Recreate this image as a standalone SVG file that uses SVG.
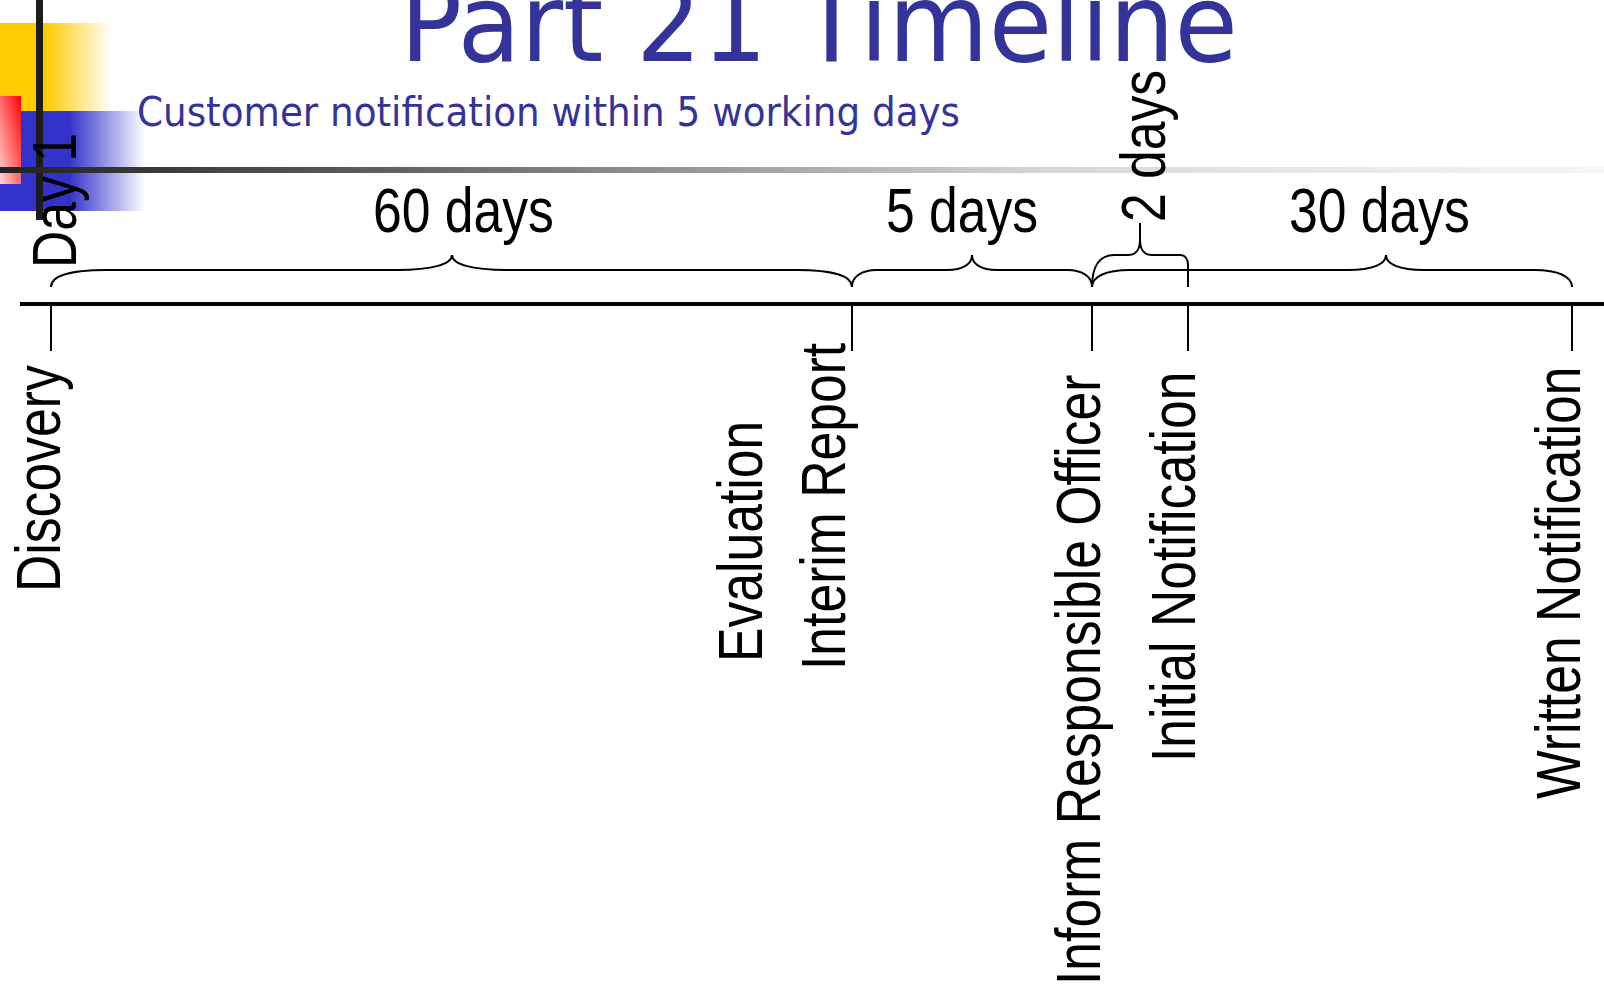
<svg xmlns="http://www.w3.org/2000/svg" width="1604" height="991" viewBox="0 0 1604 991">
<defs>
<linearGradient id="yellowGrad" gradientUnits="userSpaceOnUse" x1="0" y1="0" x2="112" y2="0">
<stop offset="0" stop-color="#FFCC00"/><stop offset="0.4" stop-color="#FFCC00"/><stop offset="1" stop-color="#FFCC00" stop-opacity="0"/>
</linearGradient>
<linearGradient id="blueGrad" gradientUnits="userSpaceOnUse" x1="0" y1="0" x2="145" y2="0">
<stop offset="0" stop-color="#3333CC"/><stop offset="0.48" stop-color="#3333CC"/><stop offset="1" stop-color="#3333CC" stop-opacity="0"/>
</linearGradient>
<linearGradient id="redGrad" x1="1" y1="0" x2="0" y2="1">
<stop offset="0" stop-color="#FF0000"/><stop offset="1" stop-color="#FFD6D6"/>
</linearGradient>
<linearGradient id="greyGrad" gradientUnits="userSpaceOnUse" x1="0" y1="0" x2="1604" y2="0">
<stop offset="0" stop-color="#222222"/><stop offset="0.22" stop-color="#5a5a5a"/><stop offset="0.49" stop-color="#a8a8a8"/><stop offset="0.65" stop-color="#d5d5d5"/><stop offset="0.79" stop-color="#e6e6e6"/><stop offset="1" stop-color="#f5f5f5"/>
</linearGradient>
<style>
.lbl{font-family:"Liberation Sans",Arial,sans-serif;font-size:63px;fill:#000}
.ttl{font-family:"DejaVu Sans",Tahoma,Verdana,sans-serif;fill:#333399}
.tick{stroke:#000;stroke-width:2;fill:none}
.brace{stroke:#000;stroke-width:2;fill:none}
</style>
</defs>
<rect width="1604" height="991" fill="#fff"/>
<g id="header">
<rect x="0" y="23" width="112" height="88" fill="url(#yellowGrad)"/>
<rect x="0" y="111" width="145" height="100" fill="url(#blueGrad)"/>
<rect x="0" y="96" width="21" height="88" fill="url(#redGrad)"/>
<rect x="36" y="0" width="7" height="220" fill="#1c1c1c"/>
<rect x="0" y="167" width="1604" height="6" fill="url(#greyGrad)"/>
<text class="ttl" x="400" y="61" font-size="108" textLength="838" lengthAdjust="spacingAndGlyphs">Part 21 Timeline</text>
<text class="ttl" x="137" y="126" font-size="40" textLength="823" lengthAdjust="spacingAndGlyphs">Customer notification within 5 working days</text>
</g>
<g id="axis">
<line x1="20" y1="304" x2="1604" y2="304" stroke="#000" stroke-width="4"/>
</g>
<g id="connectors">
<line class="tick" x1="51" y1="304" x2="51" y2="351"/>
<line class="tick" x1="852" y1="304" x2="852" y2="351"/>
<line class="tick" x1="1092" y1="304" x2="1092" y2="351"/>
<line class="tick" x1="1188" y1="304" x2="1188" y2="351"/>
<line class="tick" x1="1572" y1="304" x2="1572" y2="351"/>
<path class="brace" d="M51,287 C51,276 70,270 106,270 L397,270 C433,270 452,264 452,255 C452,264 471,270 507,270 L797,270 C833,270 852,276 852,287"/>
<path class="brace" d="M852,287 C852,277 861,270 877,270 L947,270 C963,270 972,264 972,255 C972,264 981,270 997,270 L1067,270 C1083,270 1092,277 1092,287"/>
<path class="brace" d="M1092,287 C1092,277 1105,270 1130,270 L1348,270 C1373,270 1386,264 1386,255 C1386,264 1399,270 1424,270 L1534,270 C1559,270 1572,277 1572,287"/>
<path class="brace" d="M1092,287 C1092,266 1100,255 1114,255 L1128,255 C1136,255 1140,249 1140,240 L1140,223 M1140,240 C1140,249 1144,255 1152,255 L1180,255 C1185,255 1188,259 1188,265 L1188,287"/>
</g>
<g id="day1"><text class="lbl" transform="translate(76,268) rotate(-90) scale(0.82,1)">Day 1</text></g>
<g id="discovery"><text class="lbl" transform="translate(60,592) rotate(-90) scale(0.82,1)">Discovery</text></g>
<g id="evaluation"><text class="lbl" transform="translate(762,662) rotate(-90) scale(0.82,1)">Evaluation</text></g>
<g id="interim-report"><text class="lbl" transform="translate(845,670) rotate(-90) scale(0.82,1)">Interim Report</text></g>
<g id="inform-officer"><text class="lbl" transform="translate(1100,985) rotate(-90) scale(0.82,1)">Inform Responsible Officer</text></g>
<g id="initial-notification"><text class="lbl" transform="translate(1195,762) rotate(-90) scale(0.82,1)">Initial Notification</text></g>
<g id="written-notification"><text class="lbl" transform="translate(1580,799) rotate(-90) scale(0.82,1)">Written Notification</text></g>
<g id="span-60"><text class="lbl" transform="translate(373,232) scale(0.82,1)">60 days</text></g>
<g id="span-5"><text class="lbl" transform="translate(886,232) scale(0.82,1)">5 days</text></g>
<g id="span-30"><text class="lbl" transform="translate(1289,232) scale(0.82,1)">30 days</text></g>
<g id="span-2"><text class="lbl" transform="translate(1165,222) rotate(-90) scale(0.82,1)">2 days</text></g>
</svg>
